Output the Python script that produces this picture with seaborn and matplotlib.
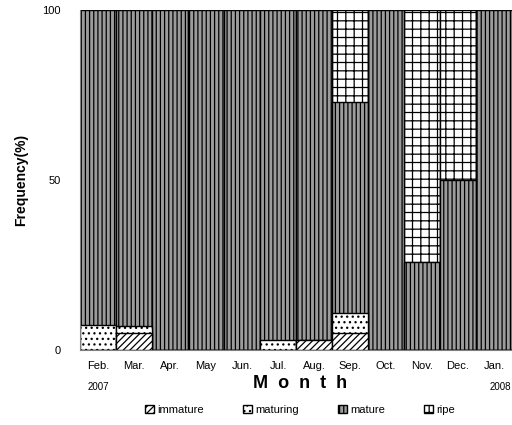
import matplotlib
matplotlib.use("Agg")
import matplotlib.pyplot as plt
import seaborn as sns
import pandas as pd
import numpy as np
from matplotlib.patches import Patch

months = ["Feb.", "Mar.", "Apr.", "May", "Jun.", "Jul.", "Aug.", "Sep.", "Oct.", "Nov.", "Dec.", "Jan."]
immature = [0, 5, 0, 0, 0, 0, 3, 5, 0, 0, 0, 0]
maturing = [7.5, 2, 0, 0, 0, 3, 0, 6, 0, 0, 0, 0]
mature = [92.5, 93, 100, 100, 100, 97, 97, 62, 100, 26, 50, 100]
ripe = [0, 0, 0, 0, 0, 0, 0, 27, 0, 74, 50, 0]
stages = ["immature", "maturing", "mature", "ripe"]

sns.set_style("white")
plt.rcParams["font.family"] = ["Liberation Sans", "DejaVu Sans"]
plt.rcParams["hatch.linewidth"] = 0.9
plt.rcParams["text.color"] = "black"
plt.rcParams["axes.labelcolor"] = "black"
plt.rcParams["xtick.color"] = "black"
plt.rcParams["ytick.color"] = "black"

fig = plt.figure(figsize=(5.12, 4.25), dpi=100)
ax = fig.add_axes([80/512, 1-350/425, 432/512, 340/425])

df = pd.DataFrame({"month": months, "immature": immature, "maturing": maturing,
                   "mature": mature, "ripe": ripe})
cum = df[stages].cumsum(axis=1)

styles = {
    "ripe": dict(color="white", hatch="++"),
    "mature": dict(color="#9c9c9c", hatch="||||"),
    "maturing": dict(color="white", hatch="..."),
    "immature": dict(color="white", hatch="/////"),
}
for st in ["ripe", "mature", "maturing", "immature"]:
    d = pd.DataFrame({"month": months, "val": cum[st]})
    sns.barplot(data=d, x="month", y="val", order=months, ax=ax, width=1.0,
                color=styles[st]["color"], edgecolor="black", linewidth=1.0,
                hatch=styles[st]["hatch"], saturation=1)

ax.set_xlim(-0.5, 11.5)
ax.set_ylim(0, 100)
ax.set_yticks([0, 50, 100])
ax.set_yticklabels(["0", "50", "100"], fontsize=8)
ax.tick_params(axis="x", labelsize=8, pad=8, length=0)
ax.tick_params(axis="y", length=0, pad=14)
ax.set_xlabel("")
ax.set_ylabel("Frequency(%)", fontsize=10, fontweight="bold", labelpad=10)
for s in ["top", "right"]:
    ax.spines[s].set_visible(False)
for s in ["left", "bottom"]:
    ax.spines[s].set_color("#808080")

fig.text(300/512, 1-383/425, "M  o  n  t  h", ha="center", va="center", fontsize=13, fontweight="bold")
fig.text(98/512, 1-387/425, "2007", ha="center", va="center", fontsize=7)
fig.text(500/512, 1-387/425, "2008", ha="center", va="center", fontsize=7)

handles = [Patch(facecolor=styles[s]["color"], edgecolor="black", hatch=styles[s]["hatch"], label=s)
           for s in stages]
fig.legend(handles=handles, loc="center", bbox_to_anchor=(300/512, 1-410/425), ncol=4,
           frameon=False, fontsize=8, handlelength=0.8, handleheight=0.8,
           handletextpad=0.3, columnspacing=3.5)

fig.savefig("out.png", dpi=100)
